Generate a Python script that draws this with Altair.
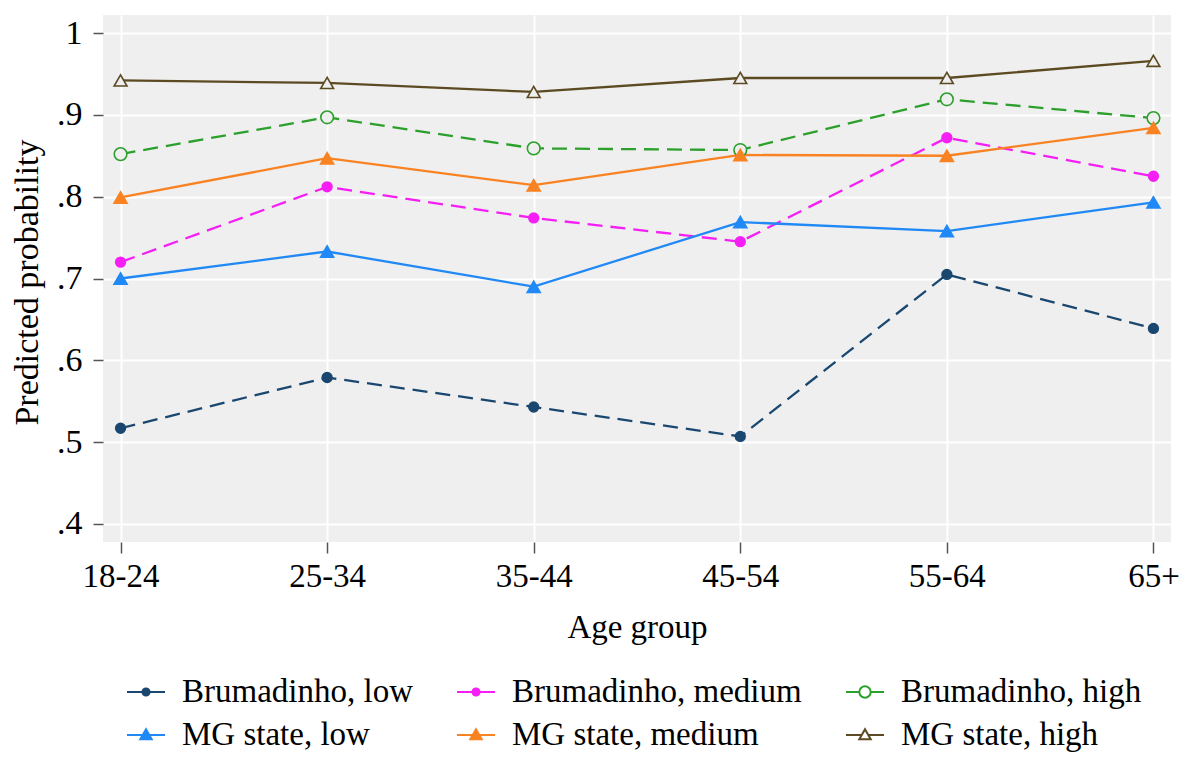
import altair as alt
import pandas as pd

ages = ["18-24", "25-34", "35-44", "45-54", "55-64", "65+"]
series_names = ["Brumadinho, low", "Brumadinho, medium", "Brumadinho, high",
                "MG state, low", "MG state, medium", "MG state, high"]
b_low = [0.517, 0.579, 0.543, 0.507, 0.705, 0.639]
b_med = [0.720, 0.812, 0.774, 0.745, 0.872, 0.825]
b_high = [0.852, 0.897, 0.859, 0.857, 0.919, 0.896]
mg_low = [0.700, 0.733, 0.690, 0.769, 0.758, 0.793]
mg_med = [0.799, 0.847, 0.814, 0.851, 0.850, 0.884]
mg_high = [0.942, 0.939, 0.928, 0.945, 0.945, 0.966]
values = [b_low, b_med, b_high, mg_low, mg_med, mg_high]

colors = ["#1a476f", "#f51ff5", "#2ca02c", "#2089f5", "#f98222", "#5c4a22"]
dashed = [True, True, True, False, False, False]
shapes = ["circle", "circle", "circle", "triangle-up", "triangle-up", "triangle-up"]
hollow = [False, False, True, False, False, True]
sizes = [95, 95, 160, 170, 170, 165]
BG = "#efefef"

rows = []
for name, vals in zip(series_names, values):
    for a, v in zip(ages, vals):
        rows.append({"age": a, "series": name, "value": v})
df = pd.DataFrame(rows)

# legend symbols: line segment + marker (custom paths)
p_fcirc = "M-1,0L1,0M-0.19,0A0.19,0.19,0,1,0,0.19,0A0.19,0.19,0,1,0,-0.19,0Z"
p_hcirc = "M-1,0L-0.3,0M0.3,0L1,0M-0.3,0A0.3,0.3,0,1,0,0.3,0A0.3,0.3,0,1,0,-0.3,0Z"
p_ftri = "M-1,0L1,0M0,-0.3L0.3,0.22L-0.3,0.22Z"
p_htri = "M-1,0L-0.17,0M0.17,0L1,0M0,-0.3L0.3,0.22L-0.3,0.22Z"
legend_paths = [p_fcirc, p_fcirc, p_hcirc, p_ftri, p_ftri, p_htri]
legend_fills = [colors[0], colors[1], "white", colors[3], colors[4], "white"]

W, H = 1068, 527

x_enc = alt.X("age:N", sort=ages,
              scale=alt.Scale(type="point", padding=0.085),
              axis=alt.Axis(title="Age group", grid=True, gridColor="white",
                            gridWidth=2, domain=False, tickSize=11, tickWidth=1.5,
                            tickColor="#555555", labelPadding=7, labelFontSize=33,
                            labelAngle=0, titleFontSize=33, titleFontWeight="normal",
                            titleBaseline="alphabetic", titleX=W / 2, titleY=95,
                            labelColor="black", titleColor="black"))
y_enc = alt.Y("value:Q",
              scale=alt.Scale(domain=[0.378, 1.022], nice=False, zero=False),
              axis=alt.Axis(title="Predicted probability", values=[0.4, 0.5, 0.6, 0.7, 0.8, 0.9, 1.0],
                            labelExpr="datum.value >= 1 ? '1' : replace(format(datum.value, '.1f'), '0.', '.')",
                            grid=True, gridColor="white", gridWidth=2, domain=False,
                            tickSize=10, tickWidth=1.5, tickColor="#555555",
                            labelPadding=11, labelFontSize=34, titleFontSize=34,
                            titleFontWeight="normal", titleBaseline="alphabetic",
                            titleAngle=270, titleX=-66, titleY=267,
                            labelColor="black", titleColor="black"))

base = alt.Chart(df)
layers = []
for i, name in enumerate(series_names):
    sub = base.transform_filter(alt.datum.series == name)
    line_kwargs = dict(color=colors[i], strokeWidth=2.3)
    if dashed[i]:
        line_kwargs["strokeDash"] = [15, 8]
    layers.append(sub.mark_line(**line_kwargs).encode(x=x_enc, y=y_enc))
for i, name in enumerate(series_names):
    sub = base.transform_filter(alt.datum.series == name)
    layers.append(sub.mark_point(shape=shapes[i], size=sizes[i], opacity=1,
                                 filled=False,
                                 fill=BG if hollow[i] else colors[i],
                                 stroke=colors[i], strokeWidth=1.6)
                  .encode(x=x_enc, y=y_enc))

legend = alt.Legend(title=None, orient="none", legendX=23, legendY=657,
                    columns=3, direction="horizontal", symbolSize=1444,
                    symbolStrokeWidth=2, labelFontSize=33, labelOffset=16,
                    columnPadding=40, rowPadding=6, padding=0,
                    labelColor="black", labelLimit=400)
legend_layer = base.mark_point(size=0, opacity=1, strokeWidth=2).encode(
    x=x_enc, y=y_enc,
    stroke=alt.Stroke("series:N", sort=series_names,
                      scale=alt.Scale(domain=series_names, range=colors), legend=legend),
    fill=alt.Fill("series:N", sort=series_names,
                  scale=alt.Scale(domain=series_names, range=legend_fills), legend=legend),
    shape=alt.Shape("series:N", sort=series_names,
                    scale=alt.Scale(domain=series_names, range=legend_paths), legend=legend),
)
layers.append(legend_layer)

chart = alt.layer(*layers).properties(
    width=W, height=H,
    autosize=alt.AutoSizeParams(type="none"),
    padding={"left": 95, "top": 7, "right": 10, "bottom": 211},
).configure(font="Liberation Serif").configure_view(fill=BG, stroke=None)

chart.save("out.html", embed_options={"renderer": "svg", "actions": False})
